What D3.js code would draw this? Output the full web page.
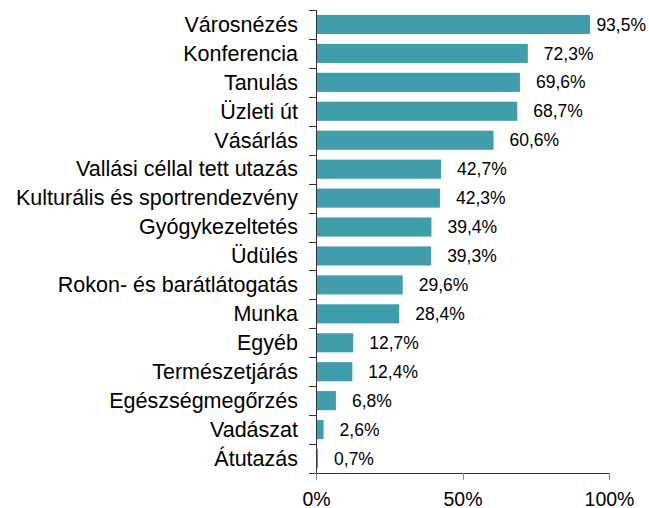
<!DOCTYPE html>
<html lang="hu">
  <head>
    <meta charset="utf-8">
    <title>Utazás célja</title>
    <script src="https://d3js.org/d3.v7.min.js"></script>
    <style>
      body { margin: 0; background: #fff; }
      svg text { font-family: "Liberation Sans", Arial, sans-serif; fill: #000; }
      .axis path, .axis line { stroke: #333; shape-rendering: crispEdges; }
    </style>
  </head>
  <body>
    <script type="text/javascript">
    // Data
    var categories = ["Városnézés", "Konferencia", "Tanulás", "Üzleti út", "Vásárlás",
                      "Vallási céllal tett utazás", "Kulturális és sportrendezvény",
                      "Gyógykezeltetés", "Üdülés", "Rokon- és barátlátogatás", "Munka",
                      "Egyéb", "Természetjárás", "Egészségmegőrzés", "Vadászat", "Átutazás"];
    var values = [93.5, 72.3, 69.6, 68.7, 60.6, 42.7, 42.3, 39.4, 39.3, 29.6, 28.4,
                  12.7, 12.4, 6.8, 2.6, 0.7];
    var xTicks = [0, 50, 100];

    var w = 649;
    var h = 508;
    var padLeft = 316, padRight = 609, padTop = 10, padBottom = 473;

    var dataset = categories.map(function(c, i) { return { cat: c, val: values[i] }; });
    var fmt = function(v) { return v.toFixed(1).replace(".", ",") + "%"; };

    var svg = d3.select("body")
                .append("svg")
                .attr("width", w)
                .attr("height", h);

    var xScale = d3.scaleLinear()
                   .domain([0, 100])
                   .range([padLeft, padRight]);

    var yScale = d3.scaleBand()
                   .domain(categories)
                   .range([padTop, padBottom])
                   .paddingInner(0.34)
                   .paddingOuter(0.17);

    // bars
    svg.selectAll("rect.bar")
       .data(dataset)
       .enter()
       .append("rect")
       .attr("class", "bar")
       .attr("x", xScale(0))
       .attr("y", function(d) { return yScale(d.cat); })
       .attr("width", function(d) { return xScale(d.val) - xScale(0); })
       .attr("height", yScale.bandwidth())
       .attr("fill", "#409DAB");

    // value labels
    svg.selectAll("text.val")
       .data(dataset)
       .enter()
       .append("text")
       .attr("class", "val")
       .attr("y", function(d) { return yScale(d.cat) + yScale.bandwidth() / 2; })
       .attr("dy", "0.35em")
       .style("font-size", "17.5px")
       .text(function(d) { return fmt(d.val); })
       .attr("x", function(d) {
         var tw = this.getComputedTextLength();
         return Math.min(xScale(d.val) + 16, 646 - tw);
       });

    // x axis
    var xAxis = d3.axisBottom(xScale)
                  .tickValues(xTicks)
                  .tickSize(7)
                  .tickSizeOuter(0)
                  .tickPadding(12)
                  .tickFormat(function(d) { return d + "%"; });

    var gx = svg.append("g")
       .attr("class", "axis")
       .attr("transform", "translate(0," + padBottom + ")")
       .call(xAxis);
    gx.selectAll("text").style("font-size", "19.5px");
    gx.selectAll(".tick line").style("stroke", "#888");

    // y axis: labels at band centres, ticks between bands
    var yAxis = d3.axisLeft(yScale)
                  .tickSize(0)
                  .tickPadding(18);

    var gy = svg.append("g")
       .attr("class", "axis")
       .attr("transform", "translate(" + padLeft + ",0)")
       .call(yAxis);
    gy.select(".domain").remove();
    gy.selectAll("text").style("font-size", "21.5px").attr("dy", "0.34em");

    var bounds = d3.range(categories.length + 1).map(function(i) {
      return yScale.range()[0] + i * yScale.step();
    });
    svg.append("g")
       .attr("class", "axis")
       .selectAll("line")
       .data(bounds)
       .enter()
       .append("line")
       .attr("x1", padLeft - 7)
       .attr("x2", padLeft)
       .attr("y1", function(d) { return Math.round(d) + 0.5; })
       .attr("y2", function(d) { return Math.round(d) + 0.5; });

    svg.append("line")
       .attr("x1", padLeft + 0.5).attr("x2", padLeft + 0.5)
       .attr("y1", padTop).attr("y2", padBottom)
       .attr("stroke", "#333");
    </script>
  </body>
</html>
